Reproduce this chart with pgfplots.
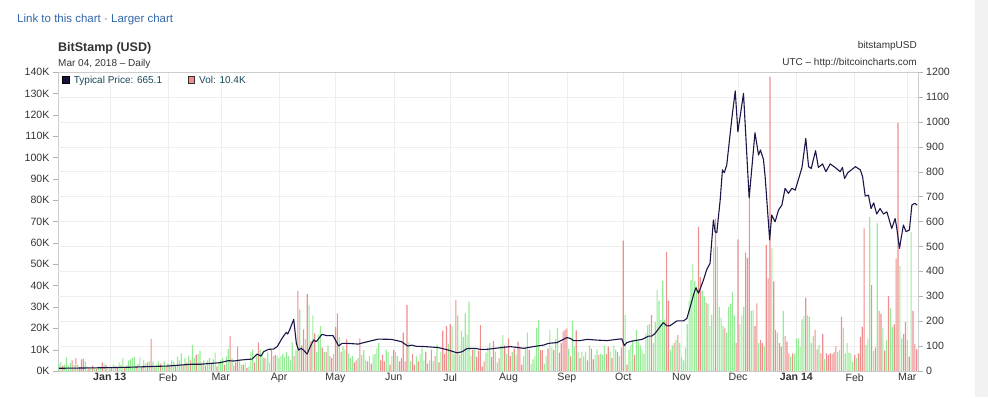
\documentclass[border=0pt]{standalone}
\usepackage{fontspec}
\setmainfont{Liberation Sans}
\usepackage{pgfplots}
\pgfplotsset{compat=1.18}
\definecolor{barG}{RGB}{150,236,150}
\definecolor{barR}{RGB}{238,142,142}
\definecolor{priceC}{RGB}{28,22,72}
\definecolor{linkC}{RGB}{51,102,170}
\definecolor{legC}{RGB}{20,72,90}
\definecolor{txtC}{RGB}{51,51,51}
\begin{document}
\begin{tikzpicture}[x=1pt,y=1pt]
\path[use as bounding box] (0pt,0pt) rectangle (988pt,397pt);
\fill[gray!10] (975pt,0pt) rectangle (988pt,397pt);
\node[anchor=base west,inner sep=0,text=linkC,font=\fontsize{11.5}{13}\selectfont] at (17pt,374pt) {Link to this chart · Larger chart};
\node[anchor=base west,inner sep=0,font=\bfseries\fontsize{12.5}{14}\selectfont,text=txtC] at (58pt,345.5pt) {BitStamp (USD)};
\node[anchor=base west,inner sep=0,font=\fontsize{10}{12}\selectfont,text=txtC] at (58pt,330.5pt) {Mar 04, 2018 – Daily};
\node[anchor=base east,inner sep=0,font=\fontsize{10}{12}\selectfont,text=txtC] at (917pt,348.7pt) {bitstampUSD};
\node[anchor=base east,inner sep=0,font=\fontsize{10}{12}\selectfont,text=txtC] at (917pt,331pt) {UTC – http://bitcoincharts.com};
\begin{axis}[at={(58pt,26pt)},anchor=south west,scale only axis,width=859.7pt,height=299pt,
  xmin=-27.5,xmax=429.5,ymin=0,ymax=140,
  xtick={0,31,59,90,120,151,181,212,243,273,304,334,365,396,424},
  xticklabels={\textbf{Jan 13},Feb,Mar,Apr,May,Jun,Jul,Aug,Sep,Oct,Nov,Dec,\textbf{Jan 14},Feb,Mar},
  xmajorgrids=true, grid style={gray!13},
  xtick style={draw=none},
  ytick={0,10,20,30,40,50,60,70,80,90,100,110,120,130,140},
  yticklabels={0K,10K,20K,30K,40K,50K,60K,70K,80K,90K,100K,110K,120K,130K,140K},
  ytick pos=left, tick align=outside, major tick length=5pt,
  ytick style={gray!60},
  extra y ticks={11.6667,23.3333,35,46.6667,58.3333,70,81.6667,93.3333,105,116.6667,128.3333},
  extra y tick labels={},
  extra y tick style={grid=major, tick style={draw=none}},
  axis line style={gray!40},
  tick label style={font=\fontsize{10.6}{12}\selectfont, text=txtC},
  xticklabel style={yshift=6pt},
]
\addplot[ybar, bar width=0.6, bar shift=0pt, fill=barG, draw=none] coordinates {
(-27,3.5)(-26,4.4)(-24,3.0)(-23,6.4)(-22,2.5)(-21,3.8)(-19,2.8)(-17,3.0)(-13,4.5)(-12,2.2)(-10,1.8)(-8,1.2)(-6,2.0)(-5,1.5)(-3,3.5)(-1,1.5)(0,2.0)(2,3.0)(3,2.2)(5,4.0)(6,3.0)(7,6.0)(9,2.5)(10,5.0)(11,5.5)(12,6.0)(13,6.5)(15,3.5)(16,6.4)(18,5.0)(19,3.5)(21,4.5)(23,4.5)(25,3.0)(26,4.5)(28,2.5)(29,4.5)
(31,3.5)(33,5)(34,4.4)(36,6.7)(37,5)(38,8.3)(40,6)(42,7)(44,12.2)(45,6)(47,8)(48,9.5)(50,5)(52,5)(53,6)(55,5.5)(56,8.6)(58,4)
(59,5)(60,6)(62,7)(63,10.3)(65,6)(69,5)(70,3)(72,4)(74,2)(75,9)(76,10)(78,8)(80,10)(81,8)(83,6)(84,8.6)(85,4)(87,7)(89,7)
(90,6)(91,7)(92,8)(93,6.5)(94,9)(95,7)(96,5)(97,13.4)(99,10)(101,28.9)(104,15)(106,31)(108,26)(110,9)(111,17)(112,21)(114,9)(116,12)(119,8)
(122,16)(124,11.4)(125,10)(127,8.3)(128,6)(129,7)(132,6)(134,7.5)(135,9.8)(136,5)(138,7)(140,7.5)(141,8)(142,10.6)(143,13)(147,10)(148,9)(150,7)
(152,9)(153,7)(159,13.6)(160,4.5)(163,7)(165,8)(166,10.6)(167,5)(170,5)(172,4.5)(174,12.3)(176,9)(180,12.6)
(182,21)(183,8)(185,26)(186,7.5)(187,18.9)(188,16)(189,27)(190,17)(191,32.4)(192,7)(194,10.6)(200,8.6)(201,11)(202,13)(205,9)(206,4)(208,12)(209,16.8)(211,8)
(214,9)(216,7.5)(220,6.8)(221,11)(222,18)(224,3.5)(225,5.5)(226,7)(227,20.3)(228,23.9)(231,3.5)(232,6.8)(234,19.2)(235,11)(237,15)(238,20.3)
(244,10.5)(246,23.6)(247,11.4)(249,9)(251,9)(252,6.8)(253,9)(255,12)(258,7.5)(259,10)(261,8)(262,7.5)(263,12)(266,9)(268,12)(269,10)(271,7)
(274,26.2)(276,10)(277,12)(278,14)(280,19.2)(281,14)(282,12)(283,10)(284,8)(285,17.6)(286,21.5)(287,22)(289,13)(290,23)(291,37.9)(292,33)(293,24)(294,42.3)(295,24)(298,10)(299,12)(301,14.5)(303,13)
(304,6.5)(305,5)(306,11)(307,22)(308,33)(309,42.6)(310,50)(311,42)(312,39.5)(315,37.6)(316,35)(318,31.5)(319,21)(320,26.2)(321,57.9)(323,58.2)(324,30)(325,25)(326,21)(328,18)(329,30)(330,31.5)(331,37)(332,26)
(335,22)(336,26)(337,30)(341,28)(342,28.5)(345,13)(348,11.5)(352,57.4)(355,18)(358,28.2)(362,6.7)(364,8)
(365,15.3)(366,15.3)(367,11.4)(368,24.2)(369,25.7)(371,26.2)(372,25.4)(373,13)(374,16.4)(377,12.2)(380,5.6)(387,9)(388,9.8)(390,20.3)(391,8.3)(392,13)(393,8.6)(394,8.3)(395,4.4)(397,6)
(402,12.2)(403,15.3)(404,72.2)(406,9.4)(408,69.1)(411,20)(413,14.5)(415,29.6)(416,20.7)(420,49.1)(421,15.3)(424,14.5)(426,65.2)
};
\addplot[ybar, bar width=0.6, bar shift=0pt, fill=barR, draw=none] coordinates {
(-25,2.5)(-20,5.0)(-18,6.0)(-16,1.8)(-15,5.5)(-14,5.8)(-11,1.5)(-9,2.5)(-7,1.0)(-4,4.0)(-2,2.8)(1,1.5)(4,1.6)(8,2.0)(14,2.2)(17,1.8)(20,4.0)(22,15.0)(24,2.0)(27,3.5)(30,2.0)
(32,3)(35,2.5)(39,3)(41,4)(43,5)(46,7.5)(49,4)(51,2.5)(54,3.5)(57,2)
(61,3)(64,16.4)(66,2.5)(67,4)(68,11.4)(71,3)(73,1.5)(77,4)(79,13.4)(82,6)(86,9.8)(88,7.5)
(98,7)(100,37.4)(102,12)(103,19.5)(105,36)(107,14)(109,17.6)(113,11)(115,9)(117,7)(118,6)
(120,20.7)(121,27)(123,9)(126,14.8)(130,4)(131,5)(133,15.3)(137,4.5)(139,3.5)(144,5)(145,7.5)(146,4.5)(149,3)
(151,9.8)(154,4.5)(155,6)(156,18)(157,4.5)(158,31)(161,8)(162,3)(164,4.5)(168,9)(169,3.5)(171,10)(173,7)(175,4)(177,18.9)(178,8)(179,21)
(181,22)(184,33.2)(193,10)(195,6.5)(196,9.5)(197,21.5)(198,2)(199,4.5)(203,6.5)(204,14)(207,6)(210,12)
(212,15.3)(213,7)(215,10.5)(217,13.7)(218,11.4)(219,3)(223,9.8)(229,9.8)(230,9.8)(233,10.5)(236,9.8)(239,8.6)(240,13)(241,18.4)(242,19.2)
(243,20)(245,6.8)(248,19)(250,6)(254,5)(256,10.5)(257,5.5)(260,7.5)(264,8)(265,11.4)(267,6)(270,9)(272,11)
(273,61)(275,3)(279,7.5)(288,26.2)(296,55.8)(297,32.9)(300,13)(302,16.8)
(313,67.5)(314,44)(317,32)(322,71.4)(327,20)(333,13)
(334,61.6)(338,55.4)(339,53)(340,80.8)(343,21)(344,31.7)(346,14.5)(347,13)(349,59)(350,43.4)(351,137.8)(353,42)(354,19.2)(356,13)(357,11.4)(359,16.4)(360,13.7)(361,8.3)(363,8.3)
(370,34.3)(375,19.2)(376,10.1)(378,8.3)(379,17.3)(381,8.3)(382,7.5)(383,8.3)(384,7.9)(385,8.7)(386,11.7)(389,25.4)(396,7.5)
(398,8.3)(399,16)(400,20.7)(401,66.8)(405,40.2)(407,10.9)(409,28.2)(410,26.7)(412,9.5)(414,35.1)(417,21.8)(418,52.7)(419,116.2)(422,17.3)(423,23)(425,6.7)(427,28.2)(428,12.6)(429,10.1)
};
\end{axis}
\begin{axis}[at={(58pt,26pt)},anchor=south west,scale only axis,width=859.7pt,height=299pt,
  xmin=-27.5,xmax=429.5,ymin=0,ymax=1200,
  axis x line=none, axis y line*=right,
  ytick={0,100,200,300,400,500,600,700,800,900,1000,1100,1200},
  yticklabels={0,100,200,300,400,500,600,700,800,900,1000,1100,1200},
  tick align=outside, major tick length=5pt,
  ytick style={gray!60},
  axis line style={gray!40},
  tick label style={font=\fontsize{10.6}{12}\selectfont, text=txtC},
]
\addplot[priceC, line width=1.1pt, line join=round] coordinates {
(-27,11)(-20,11.5)(-10,12.5)(0,13.5)(10,15)(21.6,18)(31,20)(43,27)(48,27)(58.8,33.5)(63,41.5)(66,40)(69.5,44)(75.7,48)(78.3,68)(80.4,60)(81.8,77.6)(84.5,87)(87,88)(89,97.7)(91.6,131)(92.8,144.5)(93.9,155)(94.6,148.5)(95.6,164.6)(97.8,207)(99.2,111)(100.4,84)(101.7,91)(103,84)(104.9,68)(106.6,97.7)(108.4,124.4)(109.8,117.7)(112.8,147)(115.5,141.8)(118.7,141.8)(121.7,100.4)(123.5,111)(126.1,111)(132.1,108)(135.6,115)(142.7,128)(149.7,127)(155,118)(158.5,100)(160.4,104)(163,99)(167.7,98)(174.7,94)(180,84)(184.6,73)(187.2,77)(189.9,90)(194.3,91)(197,87)(200.5,87)(205,91)(209.4,95)(212.9,98)(220,91)(225.3,98)(230.6,104)(233.3,111)(237.7,114)(240.4,124)(243,134)(244.8,131)(246.6,122)(250.1,122)(253.7,127)(259,124)(264.3,122)(269.6,127)(272.2,129)(273.5,102)(274.9,114)(277.6,120)(283,127)(286.4,140)(288.1,140)(289.9,151)(292.6,178)(294.3,194)(296.2,181)(297.9,182)(301.5,201)(305,201)(306.8,211)(308.6,258)(310.3,305)(311.6,334)(313,312)(315.6,365)(317.4,408)(319.1,432)(320.9,606)(321.8,559)(322.7,555)(324.5,686)(325.7,807)(326.7,796)(328,827)(330.7,1014)(332.5,1124)(333.9,960)(336.9,1114)(339.9,694)(343,956)(344.9,867)(345.9,887)(347.5,849)(348.4,780)(350.8,526)(351.9,626)(353.7,599)(355.5,646)(357.3,666)(359,733)(360.8,713)(362.6,733)(364.4,726)(368,817)(370,933)(371.5,820)(372.9,813)(375.2,884)(376.7,817)(378.9,831)(380.7,800)(383,831)(385.6,817)(388.3,800)(389.5,817)(390.6,773)(392.4,796)(394.2,807)(396.4,820)(399,807)(400.2,780)(401.6,702)(403.3,706)(404.7,652)(406.1,675)(407.7,630)(409.5,652)(411.3,630)(413.1,639)(415.7,572)(417.5,612)(418.4,572)(419.8,492)(421.9,586)(423.3,559)(425.1,566)(426.4,666)(427.9,673)(429.2,666)
};
\end{axis}
\filldraw[fill=priceC!80!black, draw=black] (62.3pt,313.7pt) rectangle (69.3pt,320.7pt);
\node[anchor=base west,inner sep=0,text=legC,font=\fontsize{10}{12}\selectfont] at (73.7pt,313.3pt) {Typical Price: 665.1};
\filldraw[fill=barR, draw=black!80] (187.7pt,313.7pt) rectangle (194.3pt,320.7pt);
\node[anchor=base west,inner sep=0,text=legC,font=\fontsize{10}{12}\selectfont] at (199pt,313.3pt) {Vol: 10.4K};
\end{tikzpicture}
\end{document}
